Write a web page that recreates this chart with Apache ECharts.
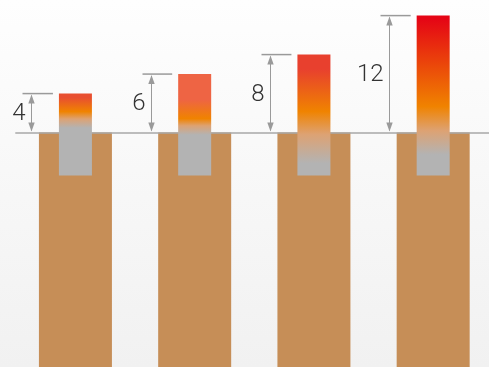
<!DOCTYPE html>
<html>
<head>
<meta charset="utf-8">
<script src="https://cdn.jsdelivr.net/npm/echarts@6/dist/echarts.min.js"></script>
<style>
  html, body { margin: 0; padding: 0; }
  #chart { width: 489px; height: 367px; background: linear-gradient(#fefefe, #f1f1f1); }
</style>
</head>
<body>
<div id="chart"></div>
<script>
// Data
const categories = ['1', '2', '3', '4'];
const heights = [4, 6, 8, 12];          // stem height above the ground line
const groundDepth = -24.05;             // depth of the tan blocks
const stemFoot = -4.4;                  // where each stem ends below the ground
const heightLabels = ['4', '6', '8', '12'];

// Per-stem gradient shading: top colour, hold stop, orange stop, tan stop, grey stop (fractions from top)
const stemShades = [
  { top: '#e84f30', hold: 0.05, orange: 0.22, tan: 0.31, grey: 0.42 },
  { top: '#ee6444', hold: 0.25, orange: 0.44, tan: 0.51, grey: 0.60 },
  { top: '#e8402e', hold: 0.12, orange: 0.47, tan: 0.66, grey: 0.90 },
  { top: '#e50515', hold: 0.02, orange: 0.57, tan: 0.72, grey: 0.87 }
];

const chart = echarts.init(document.getElementById('chart'), null, { renderer: 'canvas' });

const stemWidth = 33;
const dimOffset = 44;     // distance of the dimension arrow from the bar centre
const dimColor = '#9a9a9a';

function renderStem(params, api) {
  const i = api.value(0);
  const v = api.value(1);
  const top = api.coord([i, v]);
  const foot = api.coord([i, stemFoot]);
  const s = stemShades[params.dataIndex];
  return {
    type: 'rect',
    shape: { x: top[0] - stemWidth / 2, y: top[1], width: stemWidth, height: foot[1] - top[1] },
    style: {
      fill: new echarts.graphic.LinearGradient(0, 0, 0, 1, [
        { offset: 0, color: s.top },
        { offset: s.hold, color: s.top },
        { offset: s.orange, color: '#f08300' },
        { offset: s.tan, color: '#dda273' },
        { offset: s.grey, color: '#b3b3b3' },
        { offset: 1, color: '#b3b3b3' }
      ])
    }
  };
}

function renderDimension(params, api) {
  const i = api.value(0);
  const v = api.value(1);
  const top = api.coord([i, v]);
  const base = api.coord([i, 0]);
  const x = Math.round(top[0] - dimOffset) + 0.5;
  const barLeft = top[0] - stemWidth / 2;
  const ah = 10, aw = 3.2;
  return {
    type: 'group',
    children: [
      { type: 'line', shape: { x1: x - 9, y1: top[1], x2: barLeft - 6, y2: top[1] },
        style: { stroke: dimColor, lineWidth: 1.5 } },
      { type: 'line', shape: { x1: x, y1: top[1] + 2, x2: x, y2: base[1] - 2 },
        style: { stroke: dimColor, lineWidth: 1 } },
      { type: 'polygon', shape: { points: [[x, top[1] + 1], [x - aw, top[1] + ah], [x + aw, top[1] + ah]] },
        style: { fill: dimColor } },
      { type: 'polygon', shape: { points: [[x, base[1] - 1], [x - aw, base[1] - ah], [x + aw, base[1] - ah]] },
        style: { fill: dimColor } },
      { type: 'text', x: x - 6, y: (top[1] + base[1]) / 2 + 1,
        style: { text: heightLabels[params.dataIndex], fill: '#333333', fontSize: 24,
          fontFamily: 'Roboto', fontWeight: 300, align: 'right', verticalAlign: 'middle' } }
    ]
  };
}

chart.setOption({
  animation: false,
  grid: { left: 15.8, top: 0, width: 477, height: 367, outerBoundsMode: 'none', containLabel: false },
  xAxis: {
    type: 'category',
    data: categories,
    z: 3,
    axisLine: { show: true, onZero: true, lineStyle: { color: '#a8a8a8', width: 1.5 } },
    axisTick: { show: false },
    axisLabel: { show: false },
    splitLine: { show: false }
  },
  yAxis: {
    type: 'value',
    min: groundDepth,
    max: 13.6,
    show: false,
    splitLine: { show: false }
  },
  series: [
    {
      type: 'bar',
      data: categories.map(() => groundDepth),
      barWidth: 73,
      itemStyle: { color: '#c68e57' },
      z: 2
    },
    {
      type: 'custom',
      renderItem: renderStem,
      data: heights.map((h, i) => [i, h]),
      z: 4
    },
    {
      type: 'custom',
      renderItem: renderDimension,
      data: heights.map((h, i) => [i, h]),
      z: 5
    }
  ]
});
</script>
</body>
</html>
